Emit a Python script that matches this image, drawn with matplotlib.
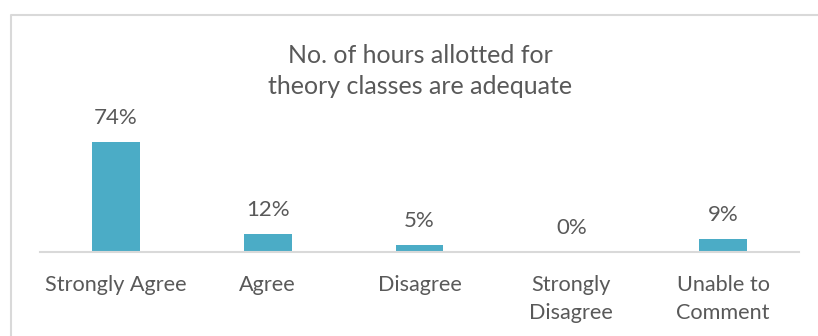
import matplotlib
matplotlib.use("Agg")
import matplotlib.pyplot as plt
from matplotlib.lines import Line2D

# survey responses
categories = ["Strongly Agree", "Agree", "Disagree", "Strongly\nDisagree", "Unable to\nComment"]
percent = [74, 12, 5, 0, 9]

title = "No. of hours allotted for\ntheory classes are adequate"

W, H = 818, 336
bar_color = "#4BACC6"
text_color = "#595959"
grid_color = "#D9D9D9"

plt.rcParams["font.family"] = ["Lato", "DejaVu Sans"]

fig = plt.figure(figsize=(W / 100, H / 100), dpi=100)

# axes placed in pixel terms: baseline at y=252, 1% ~ 1.486 px
ymax = 80
ax = fig.add_axes([40 / W, (H - 252) / H, 759 / W, ymax * 1.486 / H])

x = range(len(categories))
bars = ax.bar(x, percent, width=0.316, color=bar_color, zorder=2)

for b, v in zip(bars, percent):
    ax.annotate(f"{v}%", (b.get_x() + b.get_width() / 2, v),
                xytext=(0, 13), textcoords="offset points",
                ha="center", va="baseline", fontsize=16, color=text_color)

ax.set_xlim(-0.5, len(categories) - 0.5)
ax.set_ylim(0, ymax)
ax.set_xticks(list(x))
ax.set_xticklabels(categories, fontsize=15.6, color=text_color, linespacing=1.52)
ax.tick_params(axis="x", length=0, pad=16.5)
ax.set_yticks([])
for s in ["top", "right", "left"]:
    ax.spines[s].set_visible(False)
ax.spines["bottom"].set_color(grid_color)
ax.spines["bottom"].set_linewidth(1.5)
ax.patch.set_visible(False)

fig.text(420 / W, (H - 44) / H, title, ha="center", va="top",
         fontsize=18, color=text_color, linespacing=1.42)

# chart frame (only top and left edges fall inside the image)
fig.add_artist(Line2D([10.5 / W, 10.5 / W, 1.0], [0, (H - 14.5) / H, (H - 14.5) / H],
                      transform=fig.transFigure, color=grid_color, lw=1.5))

fig.savefig("out.png", dpi=100)
